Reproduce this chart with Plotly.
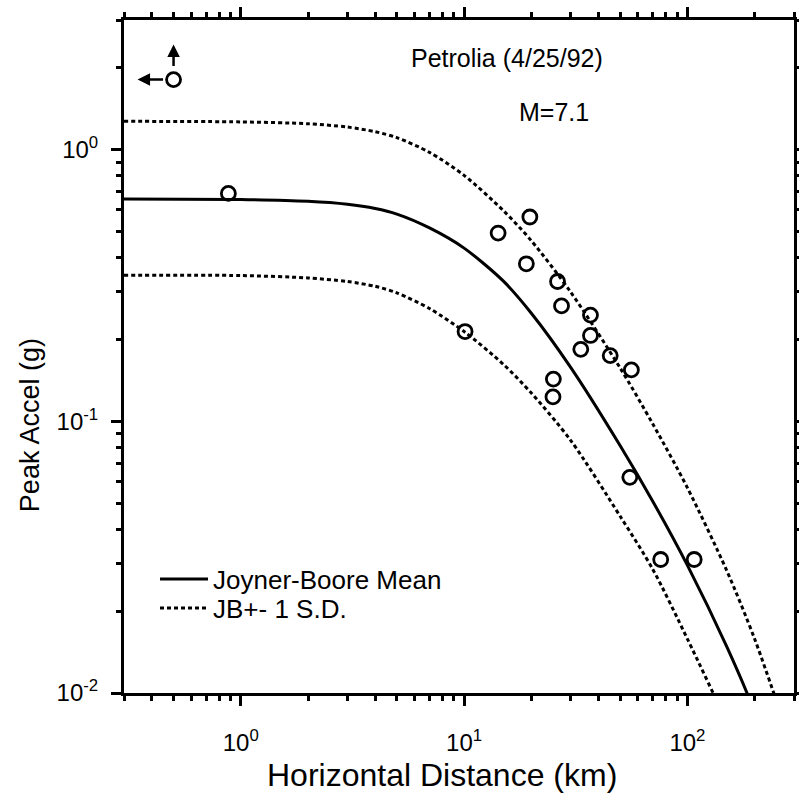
import numpy as np
import plotly.graph_objects as go

# ---- data ----
dist_obs = [0.88, 14.2, 19.7, 19.0, 26.2, 27.3, 36.8, 36.8, 33.3, 10.1, 25.1, 25.0,
            45.1, 56.1, 55.2, 75.9, 107.2]
pga_obs = [0.69, 0.493, 0.565, 0.380, 0.327, 0.266, 0.246, 0.207, 0.184, 0.214, 0.143, 0.123,
           0.1745, 0.1546, 0.0622, 0.0310, 0.0310]
# station plotted with arrows (bound)
dist_bound = [0.5]
pga_bound = [1.81]

curve_x = [0.3, 1, 2, 3, 4, 5, 7, 10, 15, 20, 30, 50, 70, 100, 150, 200, 300]
mean_y = [0.658, 0.655, 0.645, 0.629, 0.607, 0.579, 0.515, 0.434, 0.328, 0.250, 0.158,
          0.0813, 0.0507, 0.0295, 0.0148, 0.00851, 0.00331]
upper_y = [1.271, 1.265, 1.245, 1.211, 1.164, 1.107, 0.977, 0.804, 0.596, 0.462, 0.299,
           0.157, 0.0977, 0.0569, 0.0282, 0.0158, 0.00603]
lower_y = [0.345, 0.344, 0.337, 0.327, 0.314, 0.297, 0.260, 0.214, 0.162, 0.127, 0.0851,
           0.0447, 0.0285, 0.0158, 0.00776, 0.00437, 0.00166]

x_major = [1, 10, 100]
x_major_text = ["10<sup>0</sup>", "10<sup>1</sup>", "10<sup>2</sup>"]
y_major = [0.01, 0.1, 1]
y_major_text = ["10<sup>-2</sup>", "10<sup>-1</sup>", "10<sup>0</sup>"]

FONT = "Liberation Sans, Arial, sans-serif"

x_minor = [m * 10 ** e for e in (-1, 0, 1, 2) for m in range(2, 10)]
x_minor = [v for v in x_minor if 0.3 <= v <= 300]
y_minor = [m * 10 ** e for e in (-2, -1, 0) for m in range(2, 10)]
y_minor = [v for v in y_minor if 0.01 <= v <= 3]

DOT = "4px,3px"

fig = go.Figure()
fig.add_trace(go.Scatter(x=curve_x, y=mean_y, mode="lines", name="Joyner-Boore Mean",
                         legend="legend",
                         line=dict(color="black", width=3, shape="spline", smoothing=0.8)))
fig.add_trace(go.Scatter(x=curve_x, y=upper_y, mode="lines", name="JB+- 1 S.D.",
                         legend="legend2",
                         line=dict(color="black", width=3, dash=DOT, shape="spline",
                                   smoothing=0.8)))
fig.add_trace(go.Scatter(x=curve_x, y=lower_y, mode="lines", showlegend=False,
                         line=dict(color="black", width=3, dash=DOT, shape="spline",
                                   smoothing=0.8)))
fig.add_trace(go.Scatter(x=dist_obs + dist_bound, y=pga_obs + pga_bound, mode="markers",
                         showlegend=False,
                         marker=dict(symbol="circle-open", size=14, color="black",
                                     line=dict(width=2.8, color="black"))))

axis_common = dict(type="log", showline=True, linewidth=3, linecolor="black", mirror="ticks",
                   ticks="outside", ticklen=10, tickwidth=2.5, tickcolor="black",
                   showgrid=False, zeroline=False,
                   tickfont=dict(family=FONT, size=24, color="black"))
fig.update_xaxes(range=[np.log10(0.3), np.log10(300)], tickmode="array", tickvals=x_major,
                 ticktext=x_major_text,
                 minor=dict(tickmode="array", tickvals=x_minor, ticks="outside", ticklen=5,
                            tickwidth=2.5, tickcolor="black", showgrid=False),
                 ticklabelstandoff=16, **axis_common)
fig.update_yaxes(range=[np.log10(0.01), np.log10(3)], tickmode="array", tickvals=y_major,
                 ticktext=y_major_text,
                 minor=dict(tickmode="array", tickvals=y_minor, ticks="outside", ticklen=5,
                            tickwidth=2.5, tickcolor="black", showgrid=False),
                 ticklabelstandoff=8, **axis_common)

ann = []
# arrows on the bound station
bx, by = np.log10(dist_bound[0]), np.log10(pga_bound[0])
ann.append(dict(x=bx, y=by, xref="x", yref="y", text="", showarrow=True, xshift=-36,
                ax=27, ay=0, axref="pixel", ayref="pixel", arrowhead=2, arrowsize=1,
                arrowwidth=2.5, arrowcolor="black"))
ann.append(dict(x=bx, y=by, xref="x", yref="y", text="", showarrow=True, yshift=35,
                ax=0, ay=23, axref="pixel", ayref="pixel", arrowhead=2, arrowsize=1,
                arrowwidth=2.5, arrowcolor="black"))
ann.append(dict(x=0.572, y=0.9435, xref="paper", yref="paper", text="Petrolia (4/25/92)",
                xanchor="center", yanchor="middle",
                showarrow=False, font=dict(family=FONT, size=25, color="black")))
ann.append(dict(x=0.642, y=0.8633, xref="paper", yref="paper", text="M=7.1",
                xanchor="center", yanchor="middle",
                showarrow=False, font=dict(family=FONT, size=25, color="black")))
ann.append(dict(x=0.4746, y=-0.1218, xref="paper", yref="paper",
                text="Horizontal Distance (km)", showarrow=False,
                xanchor="center", yanchor="middle",
                font=dict(family=FONT, size=32, color="black")))
ann.append(dict(x=-0.1403, y=0.398, xref="paper", yref="paper", text="Peak Accel (g)",
                textangle=-90, showarrow=False, xanchor="center", yanchor="middle",
                font=dict(family=FONT, size=27, color="black")))

legend_style = dict(xanchor="left", yanchor="middle", bgcolor="rgba(0,0,0,0)",
                    itemwidth=48, font=dict(family=FONT, size=26, color="black"))
fig.update_layout(
    width=799, height=796, autosize=False,
    margin=dict(l=124, r=5, t=20, b=103, autoexpand=False),
    paper_bgcolor="white", plot_bgcolor="white",
    annotations=ann,
    showlegend=True,
    legend=dict(x=0.0463, y=0.1694, **legend_style),
    legend2=dict(x=0.0463, y=0.1263, **legend_style),
)

fig.write_html("out.html", config={"displayModeBar": False},
               post_script="document.body.style.margin='0';")
